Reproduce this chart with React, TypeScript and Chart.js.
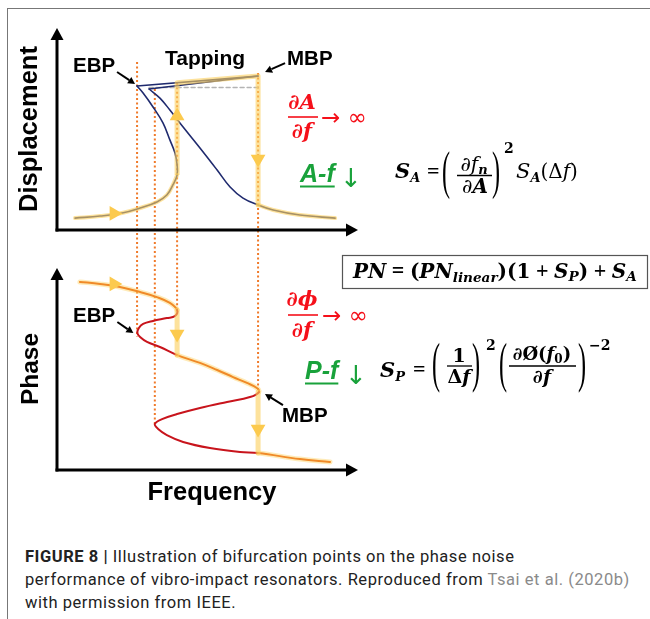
import React, { useEffect, useRef } from "react";
import { Chart, registerables } from "chart.js";

Chart.register(...registerables);

// ---------------- data (arbitrary units: frequency 0-100, displacement 0-100, phase 0-100) ----------------
// Displacement: lower branch that bends back into the unstable branch up to EBP
const lowerFreq = [6.0, 14.3, 21.6, 27.6, 33.2, 36.5, 38.5, 39.9, 39.9, 39.2, 37.5, 35.2, 31.9, 28.6, 26.6];
const lowerDisp = [5.9, 6.9, 8.4, 10.9, 13.9, 17.3, 22.3, 27.2, 32.2, 38.1, 44.6, 53.0, 60.9, 67.8, 71.3];
// upper branch from EBP to MBP
const upperFreq = [26.6, 66.8];
const upperDisp = [71.3, 76.2];
// tapping response upper branch
const upper2Freq = [30.6, 66.8];
const upper2Disp = [69.8, 76.2];
// tapping response descending branch and tail
const descFreq = [30.6, 34.2, 37.5, 41.9, 47.5, 53.2, 57.5, 61.8, 66.8, 71.8, 80.7, 92.4];
const descDisp = [69.8, 65.3, 59.4, 51.0, 40.6, 29.7, 21.3, 15.8, 12.4, 9.9, 7.4, 5.9];
// grey dashed level
const dashFreq = [30.6, 66.8];
const dashDisp = [70.5, 70.5];
// jump path: up at 39.9, along the upper branch, down at MBP
const jumpFreq = [39.9, 39.9, 66.8, 66.8];
const jumpDisp = [27.2, 72.9, 76.2, 12.4];
// arrow heads on the displacement panel
const dispHeadFreq = [18.9, 39.9, 66.8];
const dispHeadDisp = [8.2, 56.4, 35.1];
const dispHeadRot = [90, 0, 180];

// Phase response (one parametric S-curve)
const phaseFreq = [
  7.6, 14.3, 20.9, 27.6, 33.2, 37.5, 39.9,
  39.2, 36.5, 31.9, 28.6, 27.2, 26.7, 27.6, 29.9, 34.2, 39.9,
  47.5, 53.2, 58.5, 63.1, 66.4, 67.1,
  64.1, 56.5, 47.5, 39.9, 34.9, 32.5, 33.6, 36.5, 41.9, 50.8, 60.8, 66.8,
  80.7, 90.7,
];
const phaseVal = [
  93.1, 92.1, 90.6, 88.1, 85.6, 82.7, 79.2,
  76.2, 75.2, 73.8, 72.3, 70.3, 67.8, 65.8, 63.4, 60.9, 56.9,
  53.0, 49.5, 46.0, 43.1, 40.6, 38.6,
  36.1, 33.7, 30.7, 27.7, 25.2, 22.8, 20.3, 17.3, 13.9, 10.9, 8.9, 8.4,
  5.4, 4.0,
];
const unstableRanges = [[6, 16], [22, 34]];
// phase jumps
const phaseJump1Freq = [39.9, 39.9];
const phaseJump1Val = [79.2, 56.9];
const phaseJump2Freq = [66.8, 66.8];
const phaseJump2Val = [38.6, 8.4];
const phaseHeadFreq = [18.9, 39.9, 66.8];
const phaseHeadVal = [92.1, 67.3, 20.3];
const phaseHeadRot = [90, 180, 180];

// bifurcation frequencies (dotted guides)
const bifFreq = [26.6, 32.5, 39.9, 66.8];
const bifTopDisp = [83.2, 69.8, 72.9, 77.7];
const bifPhaseEnd = [65.8, 22.8, 79.2, 38.6];

// ---------------- styles ----------------
const NAVY = "#1f2a6e";
const YEL = "rgba(252, 208, 95, 0.62)";
const YEL_HEAD = "#fcca4e";
const GLOW = "rgba(252, 210, 100, 0.45)";
const ORANGE = "#f08a28";
const RED = "#c8141c";
const DOT = "#f07a2a";
const SANS = '"Liberation Sans", Arial, sans-serif';
const DSANS = '"DejaVu Sans", sans-serif';
const SERIF = '"DejaVu Serif", serif';
const TSERIF = '"Liberation Serif", serif';
const r = (n: number) => `${n}px ${SERIF}`;
const it = (n: number) => `italic ${n}px ${SERIF}`;
const b = (n: number) => `bold ${n}px ${SERIF}`;
const bi = (n: number) => `bold italic ${n}px ${SERIF}`;

const pts = (xs: number[], ys: number[]) => xs.map((x, i) => ({ x, y: ys[i] }));
const isUnstable = (i: number) => unstableRanges.some(([a, z]) => i >= a && i < z);

type Run = [string, string, number?];

function txt(ctx: CanvasRenderingContext2D, s: string, x: number, y: number, font: string, color = "#000", align: CanvasTextAlign = "left") {
  ctx.font = font;
  ctx.fillStyle = color;
  ctx.textAlign = align;
  ctx.textBaseline = "alphabetic";
  ctx.fillText(s, x, y);
  return ctx.measureText(s).width;
}
function runsWidth(ctx: CanvasRenderingContext2D, list: Run[]) {
  let w = 0;
  for (const [s, f] of list) {
    ctx.font = f;
    w += ctx.measureText(s).width;
  }
  return w;
}
function runs(ctx: CanvasRenderingContext2D, x: number, y: number, list: Run[], color = "#000") {
  let cx = x;
  for (const [s, f, dy] of list) cx += txt(ctx, s, cx, y + (dy || 0), f, color);
  return cx - x;
}
function runsC(ctx: CanvasRenderingContext2D, cx: number, y: number, list: Run[], color = "#000") {
  const w = runsWidth(ctx, list);
  runs(ctx, cx - w / 2, y, list, color);
}
function paren(ctx: CanvasRenderingContext2D, ch: string, x: number, top: number, bottom: number) {
  ctx.font = `22px ${TSERIF}`;
  const m = ctx.measureText(ch);
  const a = m.actualBoundingBoxAscent;
  const d = m.actualBoundingBoxDescent;
  const sc = (bottom - top) / (a + d);
  ctx.save();
  ctx.translate(x, top);
  ctx.scale(1.1, sc);
  ctx.fillStyle = "#000";
  ctx.textAlign = "left";
  ctx.textBaseline = "alphabetic";
  ctx.fillText(ch, 0, a);
  ctx.restore();
}
function hline(ctx: CanvasRenderingContext2D, x0: number, x1: number, y: number, color = "#000", lw = 1.3) {
  ctx.beginPath();
  ctx.strokeStyle = color;
  ctx.lineWidth = lw;
  ctx.setLineDash([]);
  ctx.moveTo(x0, y);
  ctx.lineTo(x1, y);
  ctx.stroke();
}
function arrowLine(ctx: CanvasRenderingContext2D, x0: number, y0: number, x1: number, y1: number, lw: number, hl: number, hw: number) {
  const ang = Math.atan2(y1 - y0, x1 - x0);
  const bx = x1 - Math.cos(ang) * hl;
  const by = y1 - Math.sin(ang) * hl;
  ctx.beginPath();
  ctx.strokeStyle = "#000";
  ctx.lineWidth = lw;
  ctx.setLineDash([]);
  ctx.moveTo(x0, y0);
  ctx.lineTo(bx, by);
  ctx.stroke();
  ctx.beginPath();
  ctx.fillStyle = "#000";
  ctx.moveTo(x1, y1);
  ctx.lineTo(bx - Math.sin(ang) * hw, by + Math.cos(ang) * hw);
  ctx.lineTo(bx + Math.sin(ang) * hw, by - Math.cos(ang) * hw);
  ctx.closePath();
  ctx.fill();
}

const pointers = [
  { axis: "yD", f: upperFreq[0], v: upperDisp[0], dx: -2, dy: -2, tx: -18, ty: -12 },
  { axis: "yD", f: upperFreq[1], v: upperDisp[1], dx: 7, dy: -4, tx: 20, ty: -9 },
  { axis: "yP", f: phaseFreq[12], v: phaseVal[12], dx: -4, dy: 0, tx: -16, ty: -11 },
  { axis: "yP", f: phaseFreq[22], v: phaseVal[22], dx: 6, dy: 2, tx: 18, ty: 11 },
];

const overlay = {
  id: "overlay",
  beforeDatasetsDraw(chart: any) {
    const ctx: CanvasRenderingContext2D = chart.ctx;
    const xs = chart.scales.x, yd = chart.scales.yD, yp = chart.scales.yP;
    ctx.save();
    // dotted bifurcation guides
    ctx.strokeStyle = DOT;
    ctx.lineWidth = 2;
    ctx.setLineDash([2, 2.5]);
    bifFreq.forEach((f, i) => {
      const px = xs.getPixelForValue(f);
      ctx.beginPath();
      ctx.moveTo(px, yd.getPixelForValue(bifTopDisp[i]));
      ctx.lineTo(px, yp.getPixelForValue(bifPhaseEnd[i]));
      ctx.stroke();
    });
    ctx.setLineDash([]);
    // axes with arrows
    const x0 = xs.getPixelForValue(0), x1 = xs.getPixelForValue(100);
    for (const sc of [yd, yp]) {
      const y0 = sc.getPixelForValue(0), y1 = sc.getPixelForValue(100);
      arrowLine(ctx, x0, y0 + 1.5, x0, y1, 3, 12, 6.5);
      arrowLine(ctx, x0 - 1.5, y0, x1, y0, 3, 12, 6.5);
    }
    ctx.restore();
  },
  afterDatasetsDraw(chart: any) {
    const ctx: CanvasRenderingContext2D = chart.ctx;
    const xs = chart.scales.x, yd = chart.scales.yD, yp = chart.scales.yP;
    ctx.save();
    // axis titles
    const bold25 = `bold 25.5px ${SANS}`;
    const midD = (yd.getPixelForValue(0) + yd.getPixelForValue(100)) / 2;
    const midP = (yp.getPixelForValue(0) + yp.getPixelForValue(100)) / 2;
    ctx.save();
    ctx.translate(37, midD);
    ctx.rotate(-Math.PI / 2);
    txt(ctx, "Displacement", 0, 0, bold25, "#000", "center");
    ctx.restore();
    ctx.save();
    ctx.translate(38, midP);
    ctx.rotate(-Math.PI / 2);
    txt(ctx, "Phase", 0, 0, `bold 24.5px ${SANS}`, "#000", "center");
    ctx.restore();
    txt(ctx, "Frequency", 212, 500, bold25, "#000", "center");

    // point labels
    const bold20 = `bold 20.5px ${SANS}`;
    txt(ctx, "EBP", 73, 72, bold20);
    txt(ctx, "Tapping", 165, 65, `bold 21px ${SANS}`);
    txt(ctx, "MBP", 287, 65, bold20);
    txt(ctx, "EBP", 73, 322, bold20);
    txt(ctx, "MBP", 282, 422, bold20);
    for (const p of pointers) {
      const sc = p.axis === "yD" ? yd : yp;
      const tx = xs.getPixelForValue(p.f) + p.dx;
      const ty = sc.getPixelForValue(p.v) + p.dy;
      arrowLine(ctx, tx + p.tx, ty + p.ty, tx, ty, 2, 7, 3.8);
    }

    // red sensitivity fractions
    const RR = "#f5101a";
    runsC(ctx, 302, 109, [["∂", bi(21)], ["A", bi(21)]], RR);
    hline(ctx, 288, 318, 117, RR, 1.6);
    runsC(ctx, 302, 138, [["∂", bi(21)], ["f", bi(21)]], RR);
    txt(ctx, "→ ∞", 321, 125, `23px ${DSANS}`, RR);
    runsC(ctx, 302, 306, [["∂", bi(21)], ["ϕ", bi(21)]], RR);
    hline(ctx, 288, 318, 315, RR, 1.6);
    runsC(ctx, 302, 337, [["∂", bi(21)], ["f", bi(21)]], RR);
    txt(ctx, "→ ∞", 322, 323, `23px ${DSANS}`, RR);

    // green labels
    const GR = "#19a23b";
    const wA = txt(ctx, "A-f", 300, 182, `bold italic 25px ${SANS}`, GR);
    hline(ctx, 300, 300 + wA, 186.5, GR, 2.2);
    txt(ctx, "↓", 340, 187, `26px ${DSANS}`, GR);
    const wP = txt(ctx, "P-f", 305, 379, `bold italic 25px ${SANS}`, GR);
    hline(ctx, 305, 305 + wP, 383.5, GR, 2.2);
    txt(ctx, "↓", 345, 384, `26px ${DSANS}`, GR);

    // S_A equation
    runs(ctx, 395, 178, [["S", bi(21)], ["A", bi(13), 4]]);
    txt(ctx, "=", 427, 178, `bold 22px ${TSERIF}`);
    paren(ctx, "(", 442, 152, 200);
    runsC(ctx, 474, 171, [["∂", r(20)], ["f", it(20)], ["n", bi(13), 3]]);
    hline(ctx, 457, 492, 175.5);
    runsC(ctx, 475, 193, [["∂", r(20)], ["A", bi(20)]]);
    paren(ctx, ")", 492, 152, 200);
    txt(ctx, "2", 504, 153, b(14));
    runs(ctx, 516, 178, [["S", it(21)], ["A", bi(13), 4], ["(Δ", r(20)], ["f", it(20)], [")", r(20)]]);

    // box equation
    const base = 20;
    const mk = (s: number): Run[] => [
      ["PN", bi(s)], [" = ", `bold ${s * 1.1}px ${TSERIF}`], ["(", b(s)], ["PN", bi(s)], ["linear", bi(s * 0.68), 4],
      [")(", b(s)], ["1", b(s)], [" + ", `bold ${s * 1.1}px ${TSERIF}`], ["S", bi(s)], ["P", bi(s * 0.68), 3], [")", b(s)],
      [" + ", `bold ${s * 1.1}px ${TSERIF}`], ["S", bi(s)], ["A", bi(s * 0.68), 3],
    ];
    const w0 = runsWidth(ctx, mk(base));
    const s = (base * 284) / w0;
    runs(ctx, 353, 278, mk(s));
    ctx.strokeStyle = "#555";
    ctx.lineWidth = 1.2;
    ctx.strokeRect(342.5, 255.5, 305, 33);

    // S_P equation
    runs(ctx, 380, 377, [["S", bi(21)], ["P", bi(13), 4]]);
    txt(ctx, "=", 413, 376, `bold 22px ${TSERIF}`);
    paren(ctx, "(", 432, 343, 393);
    runsC(ctx, 459, 362, [["1", b(19)]]);
    hline(ctx, 447, 472, 366);
    runsC(ctx, 459, 383, [["Δ", b(19)], ["f", bi(19)]]);
    paren(ctx, ")", 472, 343, 393);
    txt(ctx, "2", 486, 350, b(14));
    paren(ctx, "(", 499, 343, 393);
    runsC(ctx, 542, 360, [["∂Ø(", b(18)], ["f", bi(18)], ["0", b(12), 3], [")", b(18)]]);
    hline(ctx, 509, 576, 366);
    runsC(ctx, 542, 383, [["∂", b(19)], ["f", bi(19)]]);
    paren(ctx, ")", 578, 343, 393);
    txt(ctx, "−2", 589, 350, b(14));
    ctx.restore();
  },
};

export default function App() {
  const ref = useRef<HTMLCanvasElement>(null);
  useEffect(() => {
    const line = (data: any, yAxisID: string, extra: any) => ({
      type: "scatter",
      data,
      yAxisID,
      showLine: true,
      pointRadius: 0,
      borderCapStyle: "round",
      borderJoinStyle: "round",
      ...extra,
    });
    const chart = new Chart(ref.current as HTMLCanvasElement, {
      type: "scatter",
      data: {
        datasets: [
          // arrow heads
          { data: pts(dispHeadFreq, dispHeadDisp), yAxisID: "yD", pointStyle: "triangle", pointRadius: 8.5, pointRotation: dispHeadRot, backgroundColor: YEL_HEAD, borderWidth: 0, order: 0 },
          { data: pts(phaseHeadFreq, phaseHeadVal), yAxisID: "yP", pointStyle: "triangle", pointRadius: 8.5, pointRotation: phaseHeadRot, backgroundColor: YEL_HEAD, borderWidth: 0, order: 0 },
          // yellow jump shafts
          line(pts(jumpFreq, jumpDisp), "yD", { borderColor: YEL, borderWidth: 5, tension: 0, order: 1, borderCapStyle: "butt" }),
          line(pts(lowerFreq.slice(0, 8), lowerDisp.slice(0, 8)), "yD", { borderColor: YEL, borderWidth: 4, tension: 0.4, order: 1 }),
          line(pts(descFreq.slice(8), descDisp.slice(8)), "yD", { borderColor: YEL, borderWidth: 4, tension: 0.4, order: 1 }),
          line(pts(phaseJump1Freq, phaseJump1Val), "yP", { borderColor: YEL, borderWidth: 5, tension: 0, order: 1, borderCapStyle: "butt" }),
          line(pts(phaseJump2Freq, phaseJump2Val), "yP", { borderColor: YEL, borderWidth: 5, tension: 0, order: 1, borderCapStyle: "butt" }),
          // phase curve
          line(pts(phaseFreq, phaseVal), "yP", {
            borderColor: ORANGE, borderWidth: 2, tension: 0.4, order: 2,
            segment: { borderColor: (c: any) => (isUnstable(c.p0DataIndex) ? RED : ORANGE) },
          }),
          line(pts(phaseFreq, phaseVal), "yP", {
            borderColor: GLOW, borderWidth: 5, tension: 0.4, order: 3,
            segment: { borderColor: (c: any) => (isUnstable(c.p0DataIndex) ? "rgba(0,0,0,0)" : GLOW) },
          }),
          // displacement responses
          line(pts(lowerFreq, lowerDisp), "yD", { borderColor: NAVY, borderWidth: 1.6, tension: 0.4, order: 4 }),
          line(pts(descFreq, descDisp), "yD", { borderColor: NAVY, borderWidth: 1.6, tension: 0.4, order: 4 }),
          line(pts(upperFreq, upperDisp), "yD", { borderColor: NAVY, borderWidth: 1.6, tension: 0, order: 4 }),
          line(pts(upper2Freq, upper2Disp), "yD", { borderColor: NAVY, borderWidth: 1.6, tension: 0, order: 4 }),
          line(pts(dashFreq, dashDisp), "yD", { borderColor: "#b4b4b4", borderWidth: 1.5, borderDash: [4, 3], tension: 0, order: 5 }),
        ],
      } as any,
      options: {
        responsive: false,
        animation: false,
        events: [],
        layout: { padding: { left: 57, top: 28, right: 292, bottom: 50 } },
        plugins: { legend: { display: false }, tooltip: { enabled: false } },
        scales: {
          x: { type: "linear", min: 0, max: 100, display: false },
          y: { type: "linear", display: false },
          yD: { type: "linear", min: -118.8, max: 100, display: false },
          yP: { type: "linear", min: 0, max: 218.8, display: false },
        },
      } as any,
      plugins: [overlay],
    });
    return () => chart.destroy();
  }, []);

  return (
    <div style={{ position: "absolute", left: 0, top: 0, width: 650, height: 619, background: "#fff", overflow: "hidden" }}>
      <div style={{ position: "absolute", left: 7, top: 8, width: 643, height: 611, borderTop: "1.5px solid #777", borderLeft: "1.5px solid #777", boxSizing: "border-box" }} />
      <canvas ref={ref} width={650} height={520} style={{ position: "absolute", left: 0, top: 0, width: 650, height: 520, display: "block" }} />
      <div style={{ position: "absolute", left: 25, top: 545, font: "16.5px Roboto, sans-serif", letterSpacing: "0.55px", lineHeight: "23px", color: "#222", whiteSpace: "nowrap" }}>
        <b>FIGURE 8 |</b> Illustration of bifurcation points on the phase noise
        <br />
        performance of vibro-impact resonators. Reproduced from <span style={{ color: "#8a8a8a" }}>Tsai et al. (2020b)</span>
        <br />
        with permission from IEEE.
      </div>
    </div>
  );
}
